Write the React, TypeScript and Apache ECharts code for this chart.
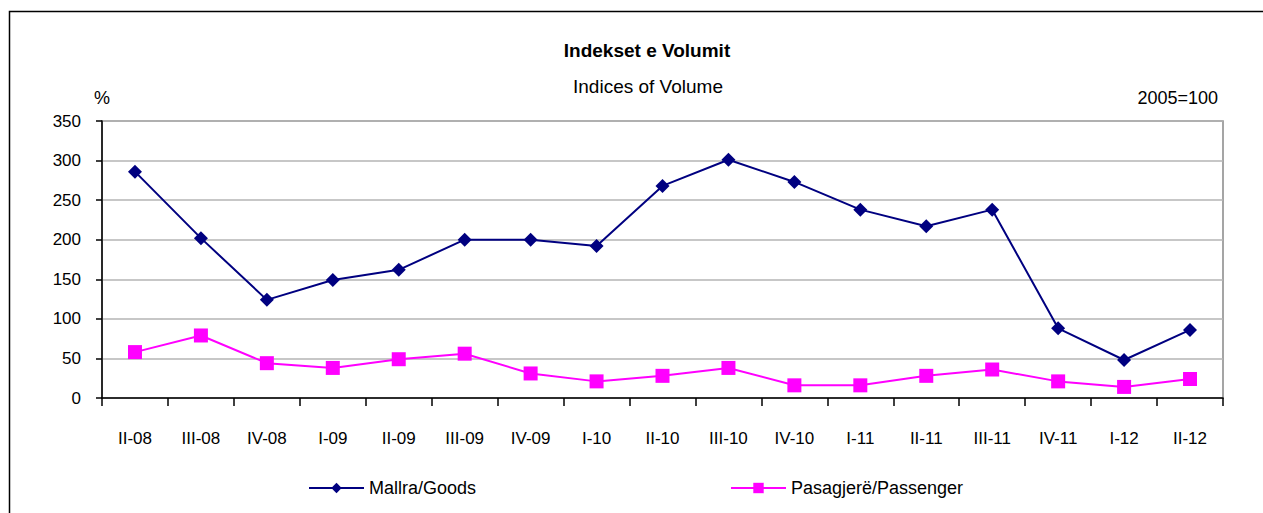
import React, { useEffect, useRef } from "react";
import * as echarts from "echarts";

const categories = ["II-08", "III-08", "IV-08", "I-09", "II-09", "III-09", "IV-09", "I-10", "II-10", "III-10", "IV-10", "I-11", "II-11", "III-11", "IV-11", "I-12", "II-12"];
const goods = [286, 202, 124, 149, 162, 200, 200, 192, 268, 301, 273, 238, 217, 238, 88, 48, 86];
const passenger = [58, 79, 44, 38, 49, 56, 31, 21, 28, 38, 16, 16, 28, 36, 21, 14, 24];
const yTicks = { min: 0, max: 350, interval: 50 };

const FONT = "'Liberation Sans', Arial, sans-serif";

export default function App() {
  const ref = useRef<HTMLDivElement>(null);
  useEffect(() => {
    if (!ref.current) return;
    const chart = echarts.init(ref.current, null, { renderer: "svg" });
    chart.setOption({
      animation: false,
      backgroundColor: "#ffffff",
      textStyle: { fontFamily: FONT },
      graphic: [
        { type: "rect", shape: { x: 9.5, y: 11.5, width: 1400, height: 700 }, style: { fill: "none", stroke: "#000", lineWidth: 1.5 }, silent: true },
        { type: "text", x: 647, y: 50, style: { text: "Indekset e Volumit", font: `bold 19px ${FONT}`, fill: "#000", textAlign: "center", textVerticalAlign: "middle" } },
        { type: "text", x: 648, y: 86, style: { text: "Indices of Volume", font: `19px ${FONT}`, fill: "#000", textAlign: "center", textVerticalAlign: "middle" } },
        { type: "text", left: 94, top: 89, style: { text: "%", font: `18px ${FONT}`, fill: "#000" } },
        { type: "text", right: 45, top: 89, style: { text: "2005=100", font: `18px ${FONT}`, fill: "#000" } },
      ],
      legend: [
        { data: [{ name: "Mallra/Goods" }], left: 303, top: 474, itemWidth: 55, itemHeight: 13, itemGap: 0, textStyle: { fontFamily: FONT, fontSize: 18, color: "#000" } },
        { data: [{ name: "Pasagjerë/Passenger" }], left: 725, top: 474, itemWidth: 55, itemHeight: 13, itemGap: 0, textStyle: { fontFamily: FONT, fontSize: 18, color: "#000" } },
      ],
      grid: { left: 102, right: 40, top: 121, bottom: 115, show: true, borderColor: "#888", borderWidth: 1.5, containLabel: false },
      xAxis: {
        type: "category",
        data: categories,
        boundaryGap: true,
        axisLine: { lineStyle: { color: "#000", width: 1.5 } },
        axisTick: { show: true, length: 8, alignWithLabel: false, lineStyle: { color: "#000", width: 1.5 } },
        axisLabel: { margin: 32, fontFamily: FONT, fontSize: 17, color: "#000", interval: 0 },
        splitLine: { show: false },
      },
      yAxis: {
        type: "value",
        min: yTicks.min,
        max: yTicks.max,
        interval: yTicks.interval,
        axisLine: { show: true, lineStyle: { color: "#000", width: 1.5 } },
        axisTick: { show: true, length: 6, lineStyle: { color: "#000", width: 1.5 } },
        axisLabel: { margin: 21, fontFamily: FONT, fontSize: 17, color: "#000" },
        splitLine: { show: true, lineStyle: { color: "#b4b4b4", width: 1.5 } },
      },
      series: [
        {
          name: "Mallra/Goods",
          type: "line",
          data: goods,
          symbol: "diamond",
          symbolSize: 14,
          color: "#000080",
          lineStyle: { color: "#000080", width: 2 },
          itemStyle: { color: "#000080" },
        },
        {
          name: "Pasagjerë/Passenger",
          type: "line",
          data: passenger,
          symbol: "rect",
          symbolSize: 14,
          color: "#ff00ff",
          lineStyle: { color: "#ff00ff", width: 2 },
          itemStyle: { color: "#ff00ff" },
        },
      ],
    });
    return () => chart.dispose();
  }, []);
  return <div ref={ref} style={{ position: "fixed", left: 0, top: 0, width: 1263, height: 513 }} />;
}
